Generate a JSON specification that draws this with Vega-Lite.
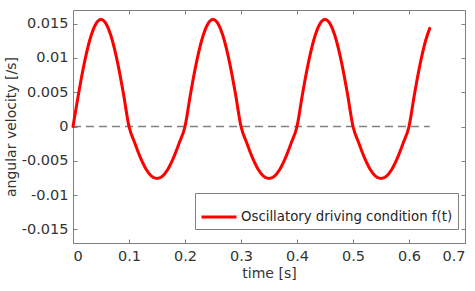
{
  "$schema": "https://vega.github.io/schema/vega-lite/v6.json",
  "width": 392,
  "height": 233,
  "autosize": {"type": "none"},
  "padding": {"left": 73, "top": 10, "right": 10, "bottom": 48},
  "background": "white",
  "config": {
    "font": "DejaVu Sans",
    "view": {"stroke": "#808080", "strokeWidth": 1},
    "axis": {
      "grid": false,
      "domainColor": "#808080",
      "tickColor": "#808080",
      "tickSize": -4,
      "labelColor": "#333333",
      "titleColor": "#333333",
      "labelFontSize": 14.5,
      "titleFontSize": 14,
      "titleFontWeight": "normal",
      "labelFont": "DejaVu Sans",
      "titleFont": "DejaVu Sans"
    },
    "legend": {
      "labelFont": "DejaVu Sans",
      "labelFontSize": 13.3,
      "labelColor": "#262626",
      "labelLimit": 400
    }
  },
  "datasets": {
    "drive": [
      {"t": 0.00, "w": 0},
      {"t": 0.01, "w": 0.00482},
      {"t": 0.02, "w": 0.00917},
      {"t": 0.03, "w": 0.01262},
      {"t": 0.04, "w": 0.01484},
      {"t": 0.05, "w": 0.0156},
      {"t": 0.06, "w": 0.01484},
      {"t": 0.07, "w": 0.01262},
      {"t": 0.08, "w": 0.00917},
      {"t": 0.09, "w": 0.00482},
      {"t": 0.10, "w": 0},
      {"t": 0.11, "w": -0.00235},
      {"t": 0.12, "w": -0.00447},
      {"t": 0.13, "w": -0.00615},
      {"t": 0.14, "w": -0.00723},
      {"t": 0.15, "w": -0.0076},
      {"t": 0.16, "w": -0.00723},
      {"t": 0.17, "w": -0.00615},
      {"t": 0.18, "w": -0.00447},
      {"t": 0.19, "w": -0.00235},
      {"t": 0.20, "w": 0},
      {"t": 0.21, "w": 0.00482},
      {"t": 0.22, "w": 0.00917},
      {"t": 0.23, "w": 0.01262},
      {"t": 0.24, "w": 0.01484},
      {"t": 0.25, "w": 0.0156},
      {"t": 0.26, "w": 0.01484},
      {"t": 0.27, "w": 0.01262},
      {"t": 0.28, "w": 0.00917},
      {"t": 0.29, "w": 0.00482},
      {"t": 0.30, "w": 0},
      {"t": 0.31, "w": -0.00235},
      {"t": 0.32, "w": -0.00447},
      {"t": 0.33, "w": -0.00615},
      {"t": 0.34, "w": -0.00723},
      {"t": 0.35, "w": -0.0076},
      {"t": 0.36, "w": -0.00723},
      {"t": 0.37, "w": -0.00615},
      {"t": 0.38, "w": -0.00447},
      {"t": 0.39, "w": -0.00235},
      {"t": 0.40, "w": 0},
      {"t": 0.41, "w": 0.00482},
      {"t": 0.42, "w": 0.00917},
      {"t": 0.43, "w": 0.01262},
      {"t": 0.44, "w": 0.01484},
      {"t": 0.45, "w": 0.0156},
      {"t": 0.46, "w": 0.01484},
      {"t": 0.47, "w": 0.01262},
      {"t": 0.48, "w": 0.00917},
      {"t": 0.49, "w": 0.00482},
      {"t": 0.50, "w": 0},
      {"t": 0.51, "w": -0.00235},
      {"t": 0.52, "w": -0.00447},
      {"t": 0.53, "w": -0.00615},
      {"t": 0.54, "w": -0.00723},
      {"t": 0.55, "w": -0.0076},
      {"t": 0.56, "w": -0.00723},
      {"t": 0.57, "w": -0.00615},
      {"t": 0.58, "w": -0.00447},
      {"t": 0.59, "w": -0.00235},
      {"t": 0.60, "w": 0},
      {"t": 0.61, "w": 0.00482},
      {"t": 0.62, "w": 0.00917},
      {"t": 0.63, "w": 0.01262},
      {"t": 0.637, "w": 0.01432}
    ],
    "zero": [
      {"t": 0, "w": 0},
      {"t": 0.637, "w": 0}
    ]
  },
  "layer": [
    {
      "data": {"name": "zero"},
      "mark": {"type": "line", "color": "#808080", "strokeWidth": 1.6, "strokeDash": [8, 5]},
      "encoding": {
        "x": {
          "field": "t", "type": "quantitative",
          "scale": {"domain": [0, 0.7], "nice": false, "zero": false},
          "axis": {"orient": "top", "labels": false, "title": null, "domain": false,
                   "values": [0, 0.1, 0.2, 0.3, 0.4, 0.5, 0.6, 0.7]}
        },
        "y": {
          "field": "w", "type": "quantitative",
          "scale": {"domain": [-0.017, 0.017], "nice": false, "zero": false},
          "axis": {"orient": "right", "labels": false, "title": null, "domain": false,
                   "values": [-0.015, -0.01, -0.005, 0, 0.005, 0.01, 0.015]}
        }
      }
    },
    {
      "data": {"name": "drive"},
      "transform": [{"calculate": "'Oscillatory driving condition f(t)'", "as": "series"}],
      "mark": {"type": "line", "strokeWidth": 3, "interpolate": "monotone", "strokeCap": "round", "strokeJoin": "round"},
      "encoding": {
        "x": {
          "field": "t", "type": "quantitative",
          "scale": {"domain": [0, 0.7], "nice": false, "zero": false},
          "axis": {"orient": "bottom", "title": "time [s]", "domain": false,
                   "values": [0, 0.1, 0.2, 0.3, 0.4, 0.5, 0.6, 0.7],
                   "labelExpr": "'' + datum.value", "labelPadding": 10, "titlePadding": 4}
        },
        "y": {
          "field": "w", "type": "quantitative",
          "scale": {"domain": [-0.017, 0.017], "nice": false, "zero": false},
          "axis": {"orient": "left", "title": "angular velocity [/s]", "domain": false,
                   "values": [-0.015, -0.01, -0.005, 0, 0.005, 0.01, 0.015],
                   "labelExpr": "'' + datum.value", "labelPadding": 9, "titlePadding": 3}
        },
        "color": {
          "field": "series", "type": "nominal",
          "scale": {"range": ["#ff0000"]},
          "legend": {
            "title": null,
            "orient": "none",
            "legendX": 122,
            "legendY": 183,
            "symbolType": "stroke",
            "symbolSize": 1225,
            "symbolStrokeWidth": 3,
            "labelOffset": 3,
            "padding": 5,
            "strokeColor": "#808080",
            "fillColor": "white"
          }
        }
      }
    }
  ],
  "resolve": {"axis": {"x": "independent", "y": "independent"}}
}
